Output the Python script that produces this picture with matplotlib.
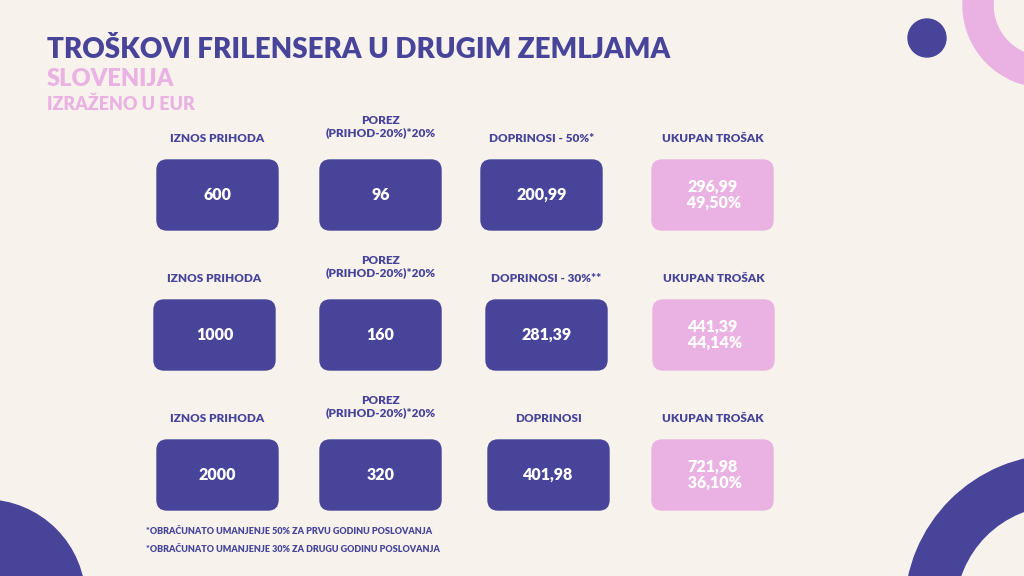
import matplotlib.pyplot as plt
from matplotlib.patches import FancyBboxPatch, Circle, Wedge

BG = "#F7F3EC"
DARK = "#47449A"
PINK = "#EAB2E3"

income = [600, 1000, 2000]
tax = [96, 160, 320]
contrib = [200.99, 281.39, 401.98]
total = [296.99, 441.39, 721.98]
total_pct = [49.50, 44.14, 36.10]
contrib_labels = ["DOPRINOSI - 50%*", "DOPRINOSI - 30%**", "DOPRINOSI"]
notes = ["*OBRAČUNATO UMANJENJE 50% ZA PRVU GODINU POSLOVANJA",
         "*OBRAČUNATO UMANJENJE 30% ZA DRUGU GODINU POSLOVANJA"]


def fmt(v, dec=2):
    if float(v).is_integer() and dec == 0:
        return f"{int(v)}"
    return f"{v:.{dec}f}".replace(".", ",")


plt.rcParams['font.family'] = ['Lato', 'DejaVu Sans']
fig = plt.figure(figsize=(10.24, 5.76), dpi=100, facecolor=BG)
ax = fig.add_axes([0, 0, 1, 1])
ax.set_xlim(0, 1024)
ax.set_ylim(576, 0)
ax.axis('off')
ax.set_facecolor(BG)

# decorations
ax.add_patch(Circle((927, 38), 19, color=DARK))
ax.add_patch(Wedge((1045, 5), 82, 0, 360, width=30, color=PINK))
ax.add_patch(Circle((-15, 600), 100, color=DARK))
ax.add_patch(Wedge((1060, 610), 155, 0, 360, width=50, color=DARK))

ax.text(47, 50, "TROŠKOVI FRILENSERA U DRUGIM ZEMLJAMA", color=DARK,
        fontsize=20, fontweight='heavy', va='center')
ax.text(47, 79, "SLOVENIJA", color=PINK, fontsize=17, fontweight='heavy', va='center')
ax.text(47, 104, "IZRAŽENO U EUR", color=PINK, fontsize=13, fontweight='heavy', va='center')

row_top = [160, 300, 440]
col_x = [[157, 320, 481, 652], [154, 320, 486, 653], [157, 320, 488, 652]]
bw, bh = 121, 70

for r in range(3):
    y0 = row_top[r]
    hy = y0 - 22
    heads = ["IZNOS PRIHODA", "POREZ\n(PRIHOD-20%)*20%", contrib_labels[r], "UKUPAN TROŠAK"]
    vals = [fmt(income[r], 0), fmt(tax[r], 0), fmt(contrib[r]),
            f"{fmt(total[r])}\n {fmt(total_pct[r])}%"]
    for c in range(4):
        x0 = col_x[r][c]
        color = PINK if c == 3 else DARK
        ax.add_patch(FancyBboxPatch((x0 + 10, y0 + 10), bw - 20, bh - 20,
                                    boxstyle="round,pad=10", color=color))
        ax.text(x0 + bw / 2, hy, heads[c], color=DARK, fontsize=8.5, fontweight='heavy',
                ha='center', va='bottom' if c == 1 else 'center', linespacing=1.1)
        ax.text(x0 + bw / 2, y0 + bh / 2, vals[c], color='white', fontsize=11.5,
                fontweight='heavy', ha='center', va='center', linespacing=1.0)

for i, n in enumerate(notes):
    ax.text(146, 532 + i * 17, n, color=DARK, fontsize=6.5, fontweight='heavy', va='center')

fig.savefig("out.png", dpi=100, facecolor=BG)
